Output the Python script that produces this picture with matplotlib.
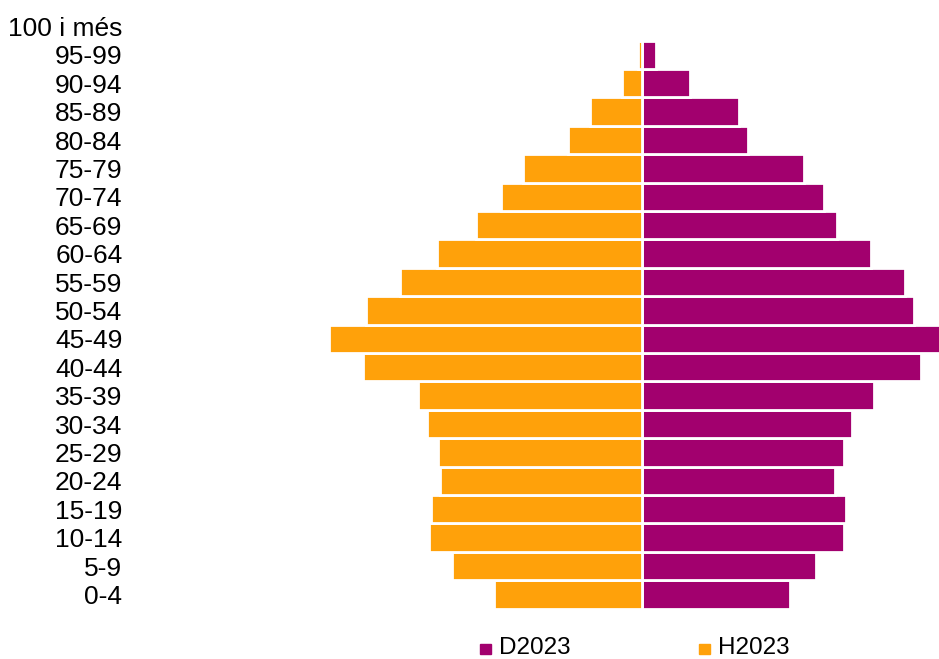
import matplotlib.pyplot as plt
from matplotlib.patches import Rectangle

plt.rcParams['font.family'] = ['Liberation Sans', 'DejaVu Sans']

# age groups, bottom to top
groups = ['0-4', '5-9', '10-14', '15-19', '20-24', '25-29', '30-34', '35-39',
          '40-44', '45-49', '50-54', '55-59', '60-64', '65-69', '70-74',
          '75-79', '80-84', '85-89', '90-94', '95-99', '100 i més']

# women (D2023), right side
dones = [148, 174, 202, 204, 193, 202, 210, 232, 279, 299,
         272, 263, 229, 195, 182, 162, 106, 97, 48, 14, 0.5]
# men (H2023), left side
homes = [148, 190, 213, 211, 202, 204, 215, 224, 279, 313,
         276, 242, 205, 166, 141, 119, 74, 52, 20, 3.5, 0.3]

series = ['D2023', 'H2023']
colors = {'D2023': '#a2006e', 'H2023': '#ffa10a'}

W, H = 939, 659
fig = plt.figure(figsize=(W / 100, H / 100), dpi=100)
ax = fig.add_axes([128 / W, (H - 620) / H, (939 - 128) / W, 620 / H])

y = list(range(len(groups)))
ax.barh(y, dones, height=1.0, color=colors['D2023'], edgecolor='white', linewidth=2)
ax.barh(y, [-v for v in homes], height=1.0, color=colors['H2023'], edgecolor='white', linewidth=2)

ax.set_xlim(-513.5, 297.5)
ax.set_ylim(-0.898, 20.93)
ax.set_yticks(y)
ax.set_yticklabels(groups, fontsize=19)
ax.tick_params(axis='y', length=0, pad=4)
ax.set_xticks([])
for s in ax.spines.values():
    s.set_visible(False)

# legend along the bottom
legend_x = [480, 699]
for name, lx in zip(series, legend_x):
    fig.add_artist(Rectangle((lx / W, (H - 654) / H), 10.5 / W, 10.5 / H,
                             transform=fig.transFigure, color=colors[name]))
    fig.text((lx + 19) / W, 5 / H, name, fontsize=17.5, va='baseline', ha='left')

fig.savefig('out.png', dpi=100)
